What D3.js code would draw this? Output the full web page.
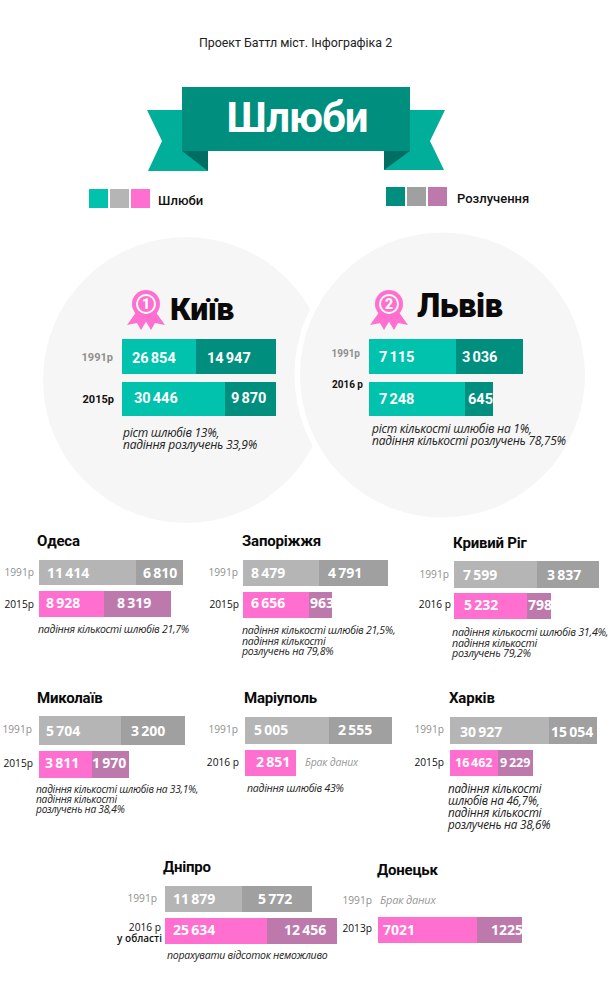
<!DOCTYPE html>
<html lang="uk"><head><meta charset="utf-8">
<script src="https://cdnjs.cloudflare.com/ajax/libs/d3/7.9.0/d3.min.js"></script>
<style>html,body{margin:0;padding:0;background:#fff}svg{display:block}</style>
</head><body><div id="c"></div>
<script>
// ---- data ----
const cities = ["Київ","Львів","Одеса","Запоріжжя","Кривий Ріг","Миколаїв","Маріуполь","Харків","Дніпро","Донецьк"];
const marriagesFirst  = [26854,7115,11414,8479,7599,5704,5005,30927,11879,null];
const divorcesFirst   = [14947,3036,6810,4791,3837,3200,2555,15054,5772,null];
const marriagesSecond = [30446,7248,8928,6656,5232,3811,2851,16462,25634,7021];
const divorcesSecond  = [9870,645,8319,963,798,1970,null,9229,12456,1225];
const firstYear = ["1991р","1991р","1991р","1991р","1991р","1991р","1991р","1991р","1991р","1991р"];
const secondYear = ["2015р","2016 р","2015р","2015р","2016 р","2015р","2016 р","2015р","2016 р","2013р"];
const notes = [
 ["ріст шлюбів 13%,","падіння розлучень 33,9%"],
 ["ріст кількості шлюбів на 1%,","падіння кількості розлучень 78,75%"],
 ["падіння кількості шлюбів 21,7%"],
 ["падіння кількості шлюбів 21,5%,","падіння кількості","розлучень на 79,8%"],
 ["падіння кількості шлюбів 31,4%,","падіння кількості","розлучень 79,2%"],
 ["падіння кількості шлюбів на 33,1%,","падіння кількості","розлучень на 38,4%"],
 ["падіння шлюбів 43%"],
 ["падіння кількості","шлюбів на 46,7%,","падіння кількості","розлучень на 38,6%"],
 ["порахувати відсоток неможливо"],
 []
];
const noData = "Брак даних";
const legendMarriage = "Шлюби", legendDivorce = "Розлучення";
const pageTitle = "Проект Баттл міст. Інфографіка 2", bannerTitle = "Шлюби";

// ---- layout (the source bars are not drawn to a common scale, so each row has its own breakpoints) ----
// r: [top, bottom, x start, split, end, label end, label baseline, value baseline, value1 x, value2 x]
const layout = [
 {t:[170,320,32],  r:[[339,374,122,196,276,113,361,363,132,207],[382,416,122,225,276,114,403,403,134,231]], n:[123,437,12],  big:1},
 {t:[417,317,33],  r:[[339,374,369,456,523,360,357,362,379,462],[382,416,369,465,493,363,388,404,379,468]], n:[372,433,12],  big:1},
 {t:[37,546,15],   r:[[560,585,39,136,183,34,576,578,47,143],[591,617,39,104,171,34,608,608,46,117]], n:[38,633,10.5]},
 {t:[242,546,15],  r:[[560,586,243,319,388,238,576,578,251,328],[592,618,243,309,332,239,608,608,251,310]], n:[242,634,10.5]},
 {t:[453,548,15],  r:[[561,588,454,537,599,449,578,580,463,547],[593,619,454,527,551,451,608,610,464,528]], n:[452,636,10.7]},
 {t:[37,703,15],   r:[[716,745,39,121,185,32,733,736,46,131],[751,778,39,92,129,33,767,768,45,92]], n:[36,793,10.2]},
 {t:[244,703,15],  r:[[717,744,245,329,392,238,733,735,254,338],[750,776,245,296,296,239,766,767,256,null]], n:[247,792,10.5]},
 {t:[449,703,15],  r:[[717,744,450,549,597,444,733,737,460,551],[750,776,450,498,533,444,766,767,455,500]], n:[448,793,11.7], tightSecond:1},
 {t:[163,872,15],  r:[[886,912,165,242,312,157,902,904,173,258],[918,944,165,267,337,161,931,935,173,284]], n:[167,959,10.5]},
 {t:[377,875,15],  r:[[null],[917,943,378,477,522,372,932,935,383,491]], n:[0,0,0], raw:1}
];
const noteStep = {3:10.5,4:10.5,5:10,7:12,0:12,1:12};

const teal="#00c2ad", tealDark="#008f7e", gray="#b5b5b5", grayDark="#a0a0a0", pink="#ff6fcf", plum="#bd79ab";
const fmt = d3.formatLocale({thousands:" ",grouping:[3],decimal:",",currency:["",""]}).format(",d");

const W=610,H=1000;
const svg=d3.select("#c").append("svg").attr("width",W).attr("height",H).attr("viewBox",[0,0,W,H]);

svg.append("text").attr("x",295.5).attr("y",47).attr("text-anchor","middle")
  .attr("font-family","Roboto").attr("font-size",12.4).attr("fill","#222").text(pageTitle);

// ribbon
const poly=(pts,fill)=>svg.append("polygon").attr("points",pts.join(" ")).attr("fill",fill);
poly([[147,110],[190,110],[208,171],[148,171],[162,141]],"#00ae9a");
poly([[445,110],[400,110],[384,170],[444,170],[430,141]],"#00ae9a");
poly([[182,151],[208,151],[208,171]],"#006e62");
poly([[410,151],[384,151],[384,170]],"#006e62");
svg.append("rect").attr("x",182).attr("y",87).attr("width",228).attr("height",64).attr("fill",tealDark);
svg.append("text").attr("x",297).attr("y",132).attr("text-anchor","middle")
  .attr("font-family","Roboto").attr("font-weight",700).attr("font-size",42).attr("letter-spacing",-1)
  .attr("fill","#fff").text(bannerTitle);

// legend
const legend=(x0,y0,cols,label,tx,ty)=>{
  const sx=d3.scalePoint().domain(d3.range(cols.length)).range([x0,x0+42]);
  svg.selectAll(null).data(cols).join("rect").attr("x",(d,i)=>sx(i)).attr("y",y0).attr("width",19).attr("height",19).attr("fill",d=>d);
  svg.append("text").attr("x",tx).attr("y",ty).attr("font-family","Roboto").attr("font-weight",500).attr("font-size",13).attr("fill","#111").text(label);
};
legend(89,189,[teal,gray,pink],legendMarriage,158,205);
legend(386,187,[tealDark,grayDark,plum],legendDivorce,457,203);

// circles
svg.append("circle").attr("cx",186).attr("cy",380).attr("r",143).attr("fill","#f6f6f6");
svg.append("circle").attr("cx",442.5).attr("cy",375).attr("r",142.5).attr("fill","#f6f6f6").attr("stroke","#fff").attr("stroke-width",0);
svg.insert("circle","circle:last-of-type").attr("cx",442.5).attr("cy",375).attr("r",148).attr("fill","#fff");

// rosette
const rosette=(cx,cy,n)=>{
  const g=svg.append("g").attr("transform",`translate(${cx},${cy})`);
  [1,-1].forEach(s=>g.append("polygon").attr("fill",pink)
    .attr("points",[[-9,7],[-19,21],[-9,19],[-5,26],[4,11]].map(p=>[p[0]*s,p[1]]).join(" ")));
  g.append("circle").attr("r",14).attr("fill",pink);
  g.append("circle").attr("r",10).attr("fill","#fff");
  g.append("circle").attr("r",8).attr("fill",pink);
  g.append("text").attr("text-anchor","middle").attr("y",5).attr("font-family","Roboto").attr("font-weight",900)
    .attr("font-size",14).attr("fill","#fff").text(n);
};
rosette(146,304,1);
rosette(389,304,2);

// city panels
cities.forEach((city,i)=>{
  const L=layout[i];
  const big=!!L.big;
  const g=svg.append("g");
  g.append("text").attr("x",L.t[0]).attr("y",L.t[1])
    .attr("font-family",big?"Roboto":"Roboto").attr("font-weight",big?900:700)
    .attr("font-size",L.t[2]).attr("letter-spacing",big?-0.5:-0.2).attr("fill","#0a0a0a").text(city);

  const rows=[
    {m:marriagesFirst[i],d:divorcesFirst[i],yr:firstYear[i],c1:big?teal:gray,c2:big?tealDark:grayDark,first:true,geo:L.r[0]},
    {m:marriagesSecond[i],d:divorcesSecond[i],yr:secondYear[i],c1:big?teal:pink,c2:big?tealDark:plum,first:false,geo:L.r[1]}
  ];
  rows.forEach(row=>{
    const g0=row.geo;
    if(row.m===null){ return; }
    const [y0,y1,x0,xs,xe,lx,ly,vy,vx1,vx2]=g0;
    const hasD=row.d!==null;
    const x=d3.scaleLinear().domain(hasD?[0,row.m,row.m+row.d]:[0,row.m]).range(hasD?[x0,xs,xe]:[x0,xs]);
    const y=d3.scaleLinear().domain([0,1]).range([y0,y1]);
    g.append("rect").attr("x",x(0)).attr("y",y(0)).attr("width",x(row.m)-x(0)).attr("height",y(1)-y(0)).attr("fill",row.c1);
    if(hasD) g.append("rect").attr("x",x(row.m)).attr("y",y(0)).attr("width",x(row.m+row.d)-x(row.m)).attr("height",y(1)-y(0)).attr("fill",row.c2);

    const size = big?14.5:(L.tightSecond&&!row.first?12.5:14);
    const val=(v,vx)=>g.append("text").attr("x",vx).attr("y",vy)
      .attr("font-family",big?"Roboto":"Open Sans").attr("font-weight",700).attr("font-size",size)
      .attr("word-spacing",-1.5).attr("fill","#fff").text(L.raw?String(v):fmt(v));
    val(row.m,vx1);
    if(hasD) val(row.d,vx2);

    g.append("text").attr("x",lx).attr("y",ly).attr("text-anchor","end")
      .attr("font-family",big?"Roboto":"Open Sans").attr("font-weight",big?700:400)
      .attr("font-size",big?(i===0?11:10):10.2)
      .attr("fill",row.first?"#8f8f8f":"#111").text(row.yr);
  });
  const [nx,ny,ns]=L.n;
  const step=noteStep[i]||11;
  notes[i].forEach((line,k)=>g.append("text").attr("x",nx).attr("y",ny+k*step)
    .attr("font-family","Open Sans").attr("font-style","italic").attr("font-size",ns).attr("letter-spacing",-0.25)
    .attr("fill","#222").text(line));
});

// extra annotations from the reference
const italicGray=(x,y,size)=>svg.append("text").attr("x",x).attr("y",y).attr("font-family","Open Sans").attr("font-style","italic")
  .attr("font-size",size).attr("letter-spacing",-0.2).attr("fill","#999").text(noData);
italicGray(305,766,10.5);
italicGray(380,904,11);
svg.append("text").attr("x",372).attr("y",904).attr("text-anchor","end").attr("font-family","Open Sans").attr("font-size",10.2).attr("fill","#8f8f8f").text(firstYear[9]);
svg.append("text").attr("x",162).attr("y",942).attr("text-anchor","end").attr("font-family","Open Sans").attr("font-weight",600).attr("font-size",10).attr("fill","#111").text("у області");
</script></body></html>
